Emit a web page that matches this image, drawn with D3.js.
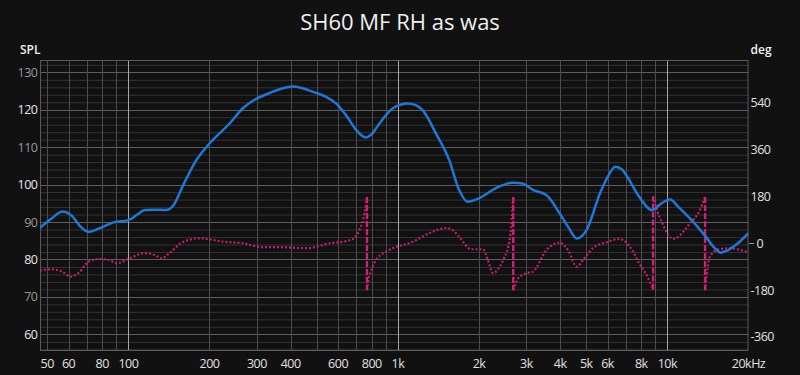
<!DOCTYPE html>
<html>
<head>
<meta charset="utf-8">
<script src="https://cdn.jsdelivr.net/npm/d3@7"></script>
<style>
  html, body { margin: 0; padding: 0; background: #111111; }
  svg { display: block; }
  text { font-family: "Open Sans", "Noto Sans", sans-serif; }
</style>
</head>
<body>
<svg id="chart" width="800" height="375"></svg>
<script>
// ---------- data ----------
const title = "SH60 MF RH as was";

const splFreq = [47, 52, 57, 62, 66, 71, 78, 88, 100, 108, 115, 125, 138, 147, 160, 179, 200, 238, 266, 299, 330, 364, 408, 440, 484, 540, 590, 650, 700, 760, 800, 856, 958, 1088, 1160, 1235, 1384, 1550, 1687, 1814, 1996, 2303, 2666, 2900, 3168, 3556, 3986, 4300, 4606, 5018, 5625, 6000, 6412, 6800, 7095, 7850, 8778, 9500, 10230, 11000, 12300, 13880, 15000, 15780, 16800, 17980, 20000];
const splValues = [88.4, 91, 92.8, 91.5, 89, 87.4, 88.3, 89.9, 90.5, 92, 93.2, 93.3, 93.2, 94.5, 100, 106.6, 111, 116.4, 120.4, 123, 124.3, 125.5, 126.2, 125.8, 124.8, 123.5, 121.7, 118, 114.6, 112.6, 113.5, 116.4, 120.4, 121.7, 121.3, 119.9, 113.7, 106.6, 98.6, 95.4, 96.3, 99, 100.5, 100.3, 98.6, 97.2, 92.3, 88.5, 85.6, 87.9, 97.7, 102, 104.8, 104, 102.1, 96.8, 93.2, 95, 96, 94, 90.5, 86.1, 83, 81.8, 82.5, 83.9, 87];

// phase: a repeated frequency marks a wrap (jump between +180 and -180)
const phaseFreq = [47, 52, 57, 61, 66, 71, 78.6, 85, 90.6, 101, 115, 125, 133, 142, 160, 184, 225, 266, 316, 364, 458, 559, 640, 690, 720, 752, 768, 768, 775, 800, 830, 930, 1138, 1304, 1511, 1600, 1687, 1869, 2070, 2150, 2258, 2350, 2461, 2608, 2680, 2680, 2820, 3080, 3168, 3556, 3986, 4300, 4606, 4900, 5290, 6000, 6600, 7000, 7400, 7850, 8300, 8850, 8850, 9200, 9520, 9960, 10500, 10750, 11600, 12000, 13200, 13800, 13800, 14400, 15500, 17000, 20000];
const phaseValues = [-105, -100, -110, -128, -110, -71, -60, -65, -77, -58, -38, -45, -58, -38, 6, 19, 6, 0, -15, -15, -19, 0, 8, 20, 51, 115, 178, -180, -150, -100, -64, -26, 6, 38, 58, 50, 25, -23, -23, -60, -115, -100, -64, 25, 178, -180, -130, -112, -109, -26, 2, -30, -90, -60, -19, 5, 17, 5, -26, -76, -115, -178, 180, 120, 83, 40, 17, 19, 51, 70, 128, 178, -180, -51, -23, -19, -36];

const xTickValues = [50, 60, 80, 100, 200, 300, 400, 600, 800, 1000, 2000, 3000, 4000, 5000, 6000, 8000, 10000, 20000];
const xTickLabels = ["50", "60", "80", "100", "200", "300", "400", "600", "800", "1k", "2k", "3k", "4k", "5k", "6k", "8k", "10k", "20kHz"];
const xGridValues = [50, 60, 70, 80, 90, 100, 200, 300, 400, 500, 600, 700, 800, 900, 1000, 2000, 3000, 4000, 5000, 6000, 7000, 8000, 9000, 10000];
const xMajorGrid = [100, 1000, 10000];
const splTicks = [60, 70, 80, 90, 100, 110, 120, 130];
const phaseTicks = [-360, -180, 0, 180, 360, 540];

// ---------- layout ----------
const svg = d3.select("#chart");
const L = 40, R = 748.5, T = 60, B = 350;

const x = d3.scaleLog().domain([47, 20000]).range([L, R]);
const y = d3.scaleLinear().domain([55.8, 133.3]).range([B, T]);
const yp = d3.scaleLinear().domain([-410, 704]).range([B, T]);

svg.append("rect").attr("width", 800).attr("height", 375).attr("fill", "#111111");

// title
svg.append("text").attr("x", 400).attr("y", 30).attr("text-anchor", "middle")
  .attr("fill", "#f0f0f0").style("font-size", "22px").text(title);

// horizontal grid (2 dB minor, 10 dB major)
const g = svg.append("g");
const minorY = d3.range(56, 134, 2).filter(v => v % 10 !== 0);
g.selectAll("line.hmin").data(minorY).enter().append("line")
  .attr("x1", L).attr("x2", R).attr("y1", d => y(d) + 0.5).attr("y2", d => y(d) + 0.5)
  .attr("stroke", "#333333").attr("stroke-width", 1);
g.selectAll("line.hmaj").data(splTicks).enter().append("line")
  .attr("x1", L).attr("x2", R).attr("y1", d => Math.round(y(d)) + 0.5).attr("y2", d => Math.round(y(d)) + 0.5)
  .attr("stroke", "#5e5e5e").attr("stroke-width", 1);

// vertical grid
g.selectAll("line.v").data(xGridValues).enter().append("line")
  .attr("x1", d => Math.round(x(d)) + 0.5).attr("x2", d => Math.round(x(d)) + 0.5)
  .attr("y1", T).attr("y2", B)
  .attr("stroke", d => xMajorGrid.includes(d) ? "#a8a8a8" : "#4d4d4d").attr("stroke-width", 1);

// frame
svg.append("rect").attr("x", L + 0.5).attr("y", T + 0.5).attr("width", R - L - 1).attr("height", B - T)
  .attr("fill", "none").attr("stroke", "#5a5a5a");

// left axis labels
svg.selectAll("text.yl").data(splTicks).enter().append("text")
  .attr("x", 37.5).attr("y", d => y(d) + 4.5).attr("text-anchor", "end")
  .attr("fill", d => (d % 20 === 0) ? "#e6e6e6" : "#9a9a9a")
  .style("font-size", "12.5px").style("letter-spacing", "-0.5px").text(d => d);

// right axis labels
svg.selectAll("text.yr").data(phaseTicks).enter().append("text")
  .attr("x", d => d === 0 ? 756.5 : 750.5).attr("y", d => yp(d) + 4.5)
  .attr("fill", "#e0e0e0").style("font-size", "12.5px").style("letter-spacing", "-0.5px").text(d => d);
svg.append("line").attr("x1", 749).attr("x2", 754)
  .attr("y1", Math.round(yp(0)) + 0.5).attr("y2", Math.round(yp(0)) + 0.5)
  .attr("stroke", "#9a9a9a");

// x labels
svg.selectAll("text.xl").data(xTickValues).enter().append("text")
  .attr("x", d => x(d)).attr("y", 367.5).attr("text-anchor", "middle")
  .attr("fill", "#e0e0e0").style("font-size", "12.5px").style("letter-spacing", "-0.5px")
  .text((d, i) => xTickLabels[i]);

// axis titles
svg.append("text").attr("x", 20).attr("y", 54).attr("fill", "#f0f0f0")
  .style("font-size", "12px").style("font-weight", "600").text("SPL");
svg.append("text").attr("x", 750.5).attr("y", 54).attr("fill", "#f0f0f0")
  .style("font-size", "12px").style("font-weight", "600").text("deg");

// clip
svg.append("clipPath").attr("id", "clip").append("rect")
  .attr("x", L).attr("y", T).attr("width", R - L).attr("height", B - T);
const plot = svg.append("g").attr("clip-path", "url(#clip)");

// phase
const phasePts = phaseFreq.map((f, i) => ({ f, v: phaseValues[i] }));
const segments = [];
const wraps = [];
let cur = [];
phasePts.forEach((p, i) => {
  if (i > 0 && p.f === phasePts[i - 1].f) {
    segments.push(cur);
    wraps.push([phasePts[i - 1], p]);
    cur = [p];
  } else cur.push(p);
});
segments.push(cur);

const phaseLine = d3.line().x(d => x(d.f)).y(d => yp(d.v)).curve(d3.curveMonotoneX);
plot.selectAll("path.ph").data(segments).enter().append("path")
  .attr("d", phaseLine).attr("fill", "none")
  .attr("stroke", "#c81c6e").attr("stroke-width", 2.2).attr("stroke-dasharray", "2,2");
plot.selectAll("line.wrap").data(wraps).enter().append("line")
  .attr("x1", d => x(d[0].f)).attr("x2", d => x(d[1].f))
  .attr("y1", d => yp(d[0].v)).attr("y2", d => yp(d[1].v))
  .attr("stroke", "#d21f75").attr("stroke-width", 2.4).attr("stroke-dasharray", "6,2");

// SPL
const splLine = d3.line().x((d, i) => x(splFreq[i])).y(d => y(d)).curve(d3.curveMonotoneX);
plot.append("path").datum(splValues).attr("d", splLine).attr("fill", "none")
  .attr("stroke", "#1f78d8").attr("stroke-width", 2.5).attr("stroke-linejoin", "round");
</script>
</body>
</html>
